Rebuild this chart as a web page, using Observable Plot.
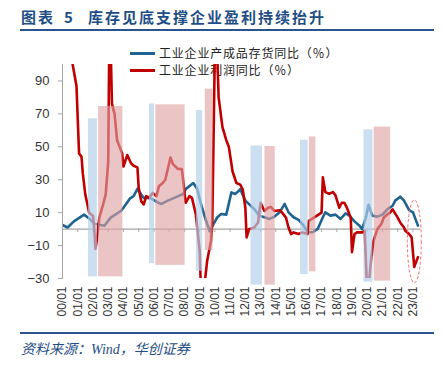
<!DOCTYPE html>
<html><head><meta charset="utf-8">
<script src="https://cdn.jsdelivr.net/npm/d3@7"></script>
<script src="https://cdn.jsdelivr.net/npm/@observablehq/plot@0.6"></script>
<style>
body{margin:0;background:#fff;}
#wrap{position:relative;width:444px;height:368px;overflow:hidden;font-family:"Noto Sans CJK SC",sans-serif;}
.t{position:absolute;top:9px;font-size:15px;line-height:16px;font-weight:bold;color:#1f4e86;letter-spacing:2px;white-space:pre;}
.rule{position:absolute;left:20px;width:414px;height:2px;background:#2a5491;}
#chart{position:absolute;left:0;top:34px;}
.leg{position:absolute;left:130px;height:14px;font-size:12px;line-height:14px;color:#222;display:flex;align-items:center;white-space:pre;letter-spacing:0.8px;}
.sw{display:inline-block;width:25px;height:3px;margin-right:4px;}
#source{position:absolute;left:21px;top:342px;font-size:14px;line-height:16px;font-style:italic;color:#1f4e86;font-family:"Liberation Serif","Noto Sans CJK SC",serif;}
</style></head>
<body><div id="wrap">
<div class="t" style="left:21px">图表</div>
<div class="t" style="left:64px">5</div>
<div class="t" style="left:88px">库存见底支撑企业盈利持续抬升</div>
<div class="rule" style="top:29px"></div>
<div class="leg" style="top:46px"><span class="sw" style="background:#1f6391"></span>工业企业产成品存货同比（％）</div>
<div class="leg" style="top:63px"><span class="sw" style="background:#c00000"></span>工业企业利润同比（％）</div>
<div id="chart"></div>
<div class="rule" style="top:332px"></div>
<div id="source">资料来源：Wind，华创证券</div>
</div>
<script>
// 工业企业产成品存货同比（%）
const blueDates = ["2000-01","2000-05","2000-10","2001-06","2001-11","2002-02","2002-06","2002-10","2003-03","2003-11","2004-01","2004-06","2004-09","2004-12","2005-03","2005-05","2005-09","2005-11","2006-04","2006-07","2006-12","2007-05","2007-12","2008-02","2008-08","2008-11","2009-02","2009-06","2009-09","2009-12","2010-03","2010-06","2010-10","2011-02","2011-05","2011-08","2011-09","2012-01","2012-08","2012-12","2013-04","2013-08","2013-12","2014-04","2014-08","2014-11","2015-03","2015-07","2015-11","2016-02","2016-06","2016-10","2017-02","2017-04","2017-08","2017-12","2018-04","2018-08","2018-11","2019-03","2019-07","2019-09","2019-12","2020-02","2020-05","2020-09","2021-01","2021-05","2021-09","2021-11","2022-03","2022-06","2022-10","2023-01","2023-03","2023-05"];
const blueValues = [2.5,1.0,4.7,8.8,5.8,3.3,2.7,2.0,7.0,11.0,13.0,18.5,20.0,24.5,21.0,19.0,19.0,18.5,16.2,15.3,17.3,19.0,21.3,24.3,28.0,24.5,15.3,5.2,-1.3,3.2,7.2,9.2,8.8,22.3,21.3,23.3,24.3,17.3,12.2,8.2,7.2,6.2,7.6,10.2,15.3,10.2,7.2,5.6,2.1,-1.9,-1.9,0.1,7.2,10.2,8.2,8.8,6.2,9.6,8.2,4.7,2.1,0.0,7.2,14.8,8.2,7.6,8.8,12.2,14.2,17.3,19.7,17.3,11.6,10.2,6.2,2.1];
// 工业企业利润同比（%）
const redDates = ["2000-01","2000-06","2000-09","2000-12","2001-02","2001-04","2001-05","2001-07","2001-10","2002-01","2002-02","2002-03","2002-04","2002-06","2002-09","2002-11","2003-01","2003-02","2003-03","2003-04","2003-06","2003-08","2003-12","2004-01","2004-04","2004-07","2004-09","2004-12","2005-01","2005-03","2005-05","2005-07","2005-09","2005-12","2006-03","2006-05","2006-08","2006-10","2007-02","2007-04","2007-08","2007-11","2007-12","2008-02","2008-05","2008-07","2008-10","2009-01","2009-02","2009-05","2009-07","2009-10","2009-11","2010-01","2010-02","2010-04","2010-07","2010-10","2010-12","2011-03","2011-06","2011-09","2011-11","2012-01","2012-02","2012-04","2012-08","2012-11","2013-01","2013-04","2013-07","2013-09","2013-12","2014-04","2014-06","2014-09","2014-11","2015-01","2015-03","2015-07","2015-10","2016-02","2016-03","2016-07","2016-11","2017-01","2017-02","2017-04","2017-07","2017-10","2017-12","2018-03","2018-05","2018-07","2018-09","2018-12","2019-01","2019-03","2019-05","2019-09","2019-11","2019-12","2020-01","2020-02","2020-04","2020-06","2020-09","2020-12","2021-02","2021-05","2021-07","2021-09","2022-01","2022-03","2022-06","2022-07","2022-10","2022-12","2023-02","2023-03","2023-05"];
const redValues = [150,120,100,87,46,44,34,21,10,8,0,-12,-7,7,15,21,41,130,110,76,70,54,46,38,45,40,38.5,37.5,25,17,15,20,19,22,20,26,28,30,43.5,39.5,36.5,36.5,30,16,20,19,9,-13,-37,-33,-19,-7,5,110,125,80,62,54,50,35,28,27,24,13,-5,0,1,4,16,11,13,13.5,11,11.5,10,7,1,-3,-2,-3,-2,-3,5,7,9,10,31.5,22.5,21.5,22.5,20.5,13,16,16,13,7,-14,-3,-2,-2,-1,-20,-38,-36,-19,-7,0,3,7,9,10,12,7,4,1,-1,-3,-5,-23,-21,-17];
// shaded periods: inventory (blue) and profit (pink)
const invStarts = ["2001-09","2005-09","2008-10","2012-05","2015-08","2019-10"];
const invEnds   = ["2002-05","2006-02","2009-04","2013-03","2016-03","2020-06"];
const invLows   = [-29,-21,-25.6,-34,-27.6,-32.2];
const invHighs  = [67,76,72,50.5,54,60.3];
const proStarts = ["2002-05","2006-02","2009-05","2013-04","2016-03","2020-06"];
const proEnds   = ["2004-01","2008-02","2009-12","2014-01","2016-09","2021-08"];
const proLows   = [-29,-22,-13,-34,-26,-31.6];
const proHighs  = [74.5,75.5,85,50.2,56,62];
// dashed ellipse annotation
const ellipseSpan = ["2022-09","2023-08"];
const ellipseRange = [-33,17.4];
const yTicks = [-30,-10,10,30,50,70,90];
const xTickLabels = ["00/01","01/01","02/01","03/01","04/01","05/01","06/01","07/01","08/01","09/01","10/01","11/01","12/01","13/01","14/01","15/01","16/01","17/01","18/01","19/01","20/01","21/01","22/01","23/01"];

const parse = d3.utcParse("%Y-%m");
const blue = blueDates.map((d,i)=>({date:parse(d), value:blueValues[i]}));
const red = redDates.map((d,i)=>({date:parse(d), value:redValues[i]}));
const inv = invStarts.map((d,i)=>({start:parse(d), end:parse(invEnds[i]), low:invLows[i], high:invHighs[i]}));
const pro = proStarts.map((d,i)=>({start:parse(d), end:parse(proEnds[i]), low:proLows[i], high:proHighs[i]}));
const xTicks = xTickLabels.map(d3.utcParse("%y/%m"));

const plot = Plot.plot({
  width:444, height:298, marginLeft:62, marginRight:24, marginTop:30, marginBottom:54,
  style:{fontFamily:"'Liberation Sans', Arial, sans-serif", background:"transparent", overflow:"visible"},
  x:{type:"utc", domain:[parse("2000-01"), parse("2023-07")]},
  y:{domain:[-30,100]},
  marks:[
    Plot.ruleY([0],{stroke:"#a6a6a6", strokeWidth:1.2}),
    Plot.ruleX(xTicks,{y1:0,y2:-2,stroke:"#a6a6a6"}),
    Plot.line(blue,{x:"date",y:"value",stroke:"#1f6391",strokeWidth:2.6,clip:true}),
    Plot.line(red,{x:"date",y:"value",stroke:"#c00000",strokeWidth:2.6,clip:true}),
    Plot.rect(inv,{x1:"start",x2:"end",y1:"low",y2:"high",fill:"#b3d0ea",fillOpacity:0.68,insetLeft:0.6,insetRight:0.6}),
    Plot.rect(pro,{x1:"start",x2:"end",y1:"low",y2:"high",fill:"#dfa0a1",fillOpacity:0.62,insetLeft:0.6,insetRight:0.6}),
    Plot.frame({anchor:"left", stroke:"#a6a6a6"}),
    Plot.axisY({ticks:yTicks, tickSize:4, tickPadding:9, fontSize:13, stroke:"#a6a6a6", fill:"#333"}),
    Plot.axisX({ticks:xTicks, tickFormat:d3.utcFormat("%y/%m"), tickSize:0, tickRotate:-90, tickPadding:8, fontSize:12, fill:"#333"})
  ]
});
document.getElementById("chart").appendChild(plot);
const sx = plot.scale("x"), sy = plot.scale("y");
const ex1 = sx.apply(parse(ellipseSpan[0])), ex2 = sx.apply(parse(ellipseSpan[1]));
const ey1 = sy.apply(ellipseRange[0]), ey2 = sy.apply(ellipseRange[1]);
d3.select(plot).append("ellipse")
  .attr("cx",(ex1+ex2)/2).attr("cy",(ey1+ey2)/2)
  .attr("rx",Math.abs(ex2-ex1)/2).attr("ry",Math.abs(ey1-ey2)/2)
  .attr("fill","none").attr("stroke","#f26d6d").attr("stroke-width",1).attr("stroke-dasharray","3,2");
</script>
</body></html>
